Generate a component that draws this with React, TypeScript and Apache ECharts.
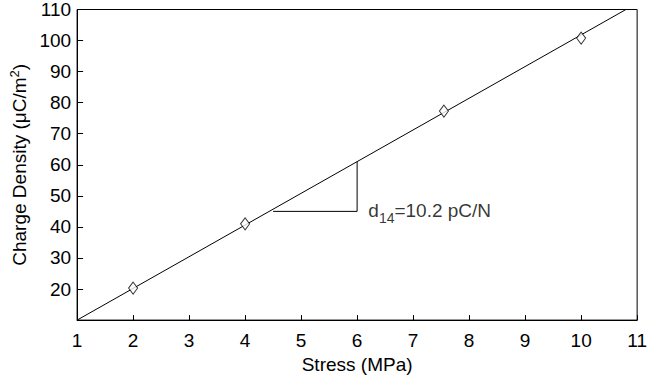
import React, { useEffect, useRef } from "react";
import * as echarts from "echarts";

const stressPoints = [2, 4, 7.55, 10];
const chargePoints = [20.3, 41, 77.3, 100.8];
const fitX = [1, 10.8];
const fitY = [10, 110];
const triangleX = [4.5, 6, 6];
const triangleY = [45, 45, 61];
const annotationPos = [6.2, 45.3];
const annotationText = "d{sub|14}=10.2 pC/N";

const FONT = "Liberation Sans, Arial, sans-serif";

export default function App() {
  const ref = useRef<HTMLDivElement>(null);
  useEffect(() => {
    if (!ref.current) return;
    const chart = echarts.init(ref.current, undefined, { renderer: "svg" });
    chart.setOption({
      animation: false,
      backgroundColor: "#fff",
      textStyle: { fontFamily: FONT },
      grid: {
        left: 73,
        right: 9,
        top: 8,
        bottom: 56,
        show: true,
        borderColor: "#000",
        borderWidth: 1,
      },
      xAxis: {
        type: "value",
        min: 1,
        max: 11,
        interval: 1,
        name: "Stress (MPa)",
        nameLocation: "middle",
        nameGap: 33,
        nameTextStyle: { color: "#000", fontSize: 19, fontFamily: FONT },
        axisLine: { lineStyle: { color: "#000", width: 1 } },
        axisTick: { inside: true, length: 5, lineStyle: { color: "#000" } },
        axisLabel: { color: "#000", fontSize: 19, margin: 11, fontFamily: FONT },
        splitLine: { show: false },
      },
      yAxis: {
        type: "value",
        min: 10,
        max: 110,
        interval: 10,
        name: "Charge Density (μC/m{sup|2})",
        nameLocation: "middle",
        nameGap: 46,
        nameRotate: 90,
        nameTextStyle: {
          color: "#000",
          fontSize: 19,
          fontFamily: FONT,
          rich: {
            sup: { fontSize: 13, verticalAlign: "top", padding: [0, 0, 9, 0], color: "#000", fontFamily: FONT },
          },
        },
        axisLine: { lineStyle: { color: "#000", width: 1 } },
        axisTick: { inside: true, length: 6, lineStyle: { color: "#000" } },
        axisLabel: {
          color: "#000",
          fontSize: 19,
          margin: 6,
          fontFamily: FONT,
          formatter: (v: number) => (v === 10 ? "" : String(v)),
        },
        splitLine: { show: false },
      },
      series: [
        {
          type: "line",
          data: fitX.map((x, i) => [x, fitY[i]]),
          symbol: "none",
          lineStyle: { color: "#000", width: 1 },
          z: 2,
        },
        {
          type: "line",
          data: triangleX.map((x, i) => [x, triangleY[i]]),
          symbol: "none",
          lineStyle: { color: "#000", width: 1 },
          z: 2,
        },
        {
          type: "scatter",
          data: stressPoints.map((x, i) => [x, chargePoints[i]]),
          symbol: "diamond",
          symbolSize: [9, 12],
          itemStyle: { color: "#fff", borderColor: "#000", borderWidth: 1 },
          z: 3,
        },
        {
          type: "scatter",
          data: [annotationPos],
          symbolSize: 0,
          silent: true,
          label: {
            show: true,
            position: "right",
            distance: 0,
            formatter: annotationText,
            color: "#000",
            fontSize: 19,
            fontFamily: FONT,
            rich: {
              sub: { fontSize: 14, verticalAlign: "bottom", padding: [16, 0, 0, 0], color: "#000", fontFamily: FONT },
            },
          },
        },
      ],
    });
    return () => chart.dispose();
  }, []);
  return (
    <div
      ref={ref}
      style={{ position: "fixed", left: 0, top: 0, width: 650, height: 379 }}
    />
  );
}
